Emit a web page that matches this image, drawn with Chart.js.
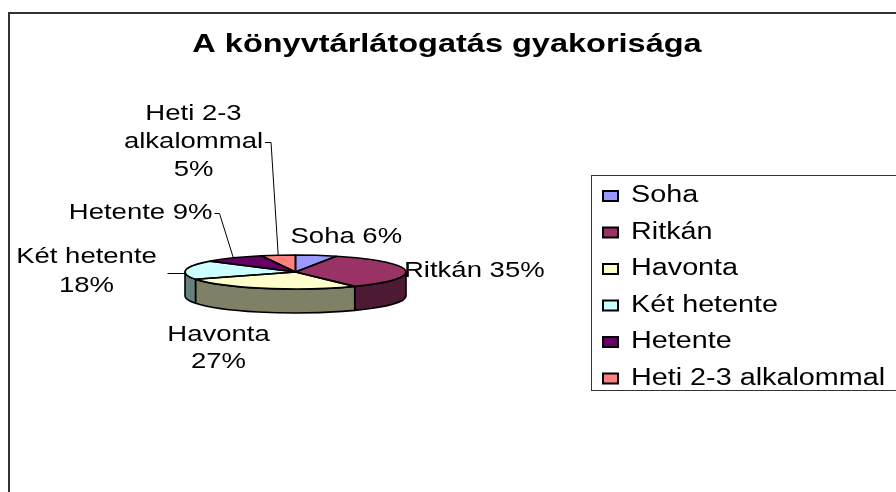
<!DOCTYPE html>
<html>
<head>
<meta charset="utf-8">
<script src="https://cdn.jsdelivr.net/npm/chart.js@4.4.1/dist/chart.umd.min.js"></script>
<style>
  html, body { margin: 0; padding: 0; background: #fff; }
  canvas { display: block; }
</style>
</head>
<body>
<canvas id="c" width="896" height="492"></canvas>
<script>
const TITLE = "A könyvtárlátogatás gyakorisága";
const CATEGORIES = ["Soha", "Ritkán", "Havonta", "Két hetente", "Hetente", "Heti 2-3 alkalommal"];
const VALUES = [6, 35, 27, 18, 9, 5];
const FACE_COLORS = ["#9999FF", "#993366", "#FFFFCC", "#CCFFFF", "#660066", "#FF8080"];
const SIDE_COLORS = ["#4D4D80", "#4D1A33", "#808066", "#668080", "#330033", "#804040"];
// label lines per slice ({v} replaced by the value)
const LABEL_LINES = [["Soha {v}%"], ["Ritkán {v}%"], ["Havonta", "{v}%"], ["Két hetente", "{v}%"], ["Hetente {v}%"], ["Heti 2-3", "alkalommal", "{v}%"]];

const SX = 1.25;               // horizontal text stretch of the original picture
const FONT = "Liberation Sans, Arial, sans-serif";
const LABEL_FONT = "22px " + FONT;
const LEGEND_FONT = "23px " + FONT;
const SQUASH = 0.154;          // vertical/horizontal ratio of the tilted pie
const DEPTH = 24;

function stretchedText(ctx, text, x, y, align, font) {
  ctx.save();
  ctx.font = font;
  ctx.fillStyle = "#000";
  ctx.textBaseline = "middle";
  ctx.textAlign = align;
  ctx.translate(x, y);
  ctx.scale(SX, 1);
  ctx.fillText(text, 0, 0);
  ctx.restore();
}
function textWidth(ctx, text, font) {
  ctx.save();
  ctx.font = font;
  const w = ctx.measureText(text).width * SX;
  ctx.restore();
  return w;
}

function geom(chart) {
  const arcs = chart.getDatasetMeta(0).data;
  const a0 = arcs[0];
  return { arcs, cx: a0.x, cy: a0.y, r: a0.outerRadius, rs: a0.outerRadius * SQUASH };
}

const pie3d = {
  id: "pie3d",
  beforeDraw(chart) {
    const ctx = chart.ctx;
    ctx.save();
    ctx.fillStyle = "#fff";
    ctx.fillRect(0, 0, chart.width, chart.height);
    ctx.restore();
  },
  beforeDatasetsDraw(chart) {
    const ctx = chart.ctx;
    const { arcs, cx, cy, r, rs } = geom(chart);
    ctx.save();
    ctx.lineWidth = 1.6;
    ctx.strokeStyle = "#000";
    ctx.lineJoin = "round";
    arcs.forEach((arc, i) => {
      const a = Math.max(arc.startAngle, 0);
      const b = Math.min(arc.endAngle, Math.PI);
      if (a >= b) return;
      ctx.beginPath();
      ctx.ellipse(cx, cy, r, rs, 0, a, b);
      ctx.ellipse(cx, cy + DEPTH, r, rs, 0, b, a, true);
      ctx.closePath();
      ctx.fillStyle = SIDE_COLORS[i];
      ctx.fill();
      ctx.stroke();
    });
    ctx.restore();
    ctx.save();
    ctx.translate(cx, cy);
    ctx.scale(1, SQUASH);
    ctx.translate(-cx, -cy);
  },
  afterDatasetsDraw(chart) {
    const ctx = chart.ctx;
    ctx.restore();
    const { arcs, cx, cy, r, rs } = geom(chart);
    ctx.save();
    ctx.lineWidth = 1.6;
    ctx.strokeStyle = "#000";
    ctx.lineJoin = "round";
    arcs.forEach((arc) => {
      ctx.beginPath();
      ctx.moveTo(cx, cy);
      ctx.ellipse(cx, cy, r, rs, 0, arc.startAngle, arc.endAngle);
      ctx.closePath();
      ctx.stroke();
    });
    ctx.restore();
  },
  afterDraw(chart) {
    const ctx = chart.ctx;
    const { arcs, cx, cy, r, rs } = geom(chart);
    // chart frame
    ctx.save();
    ctx.strokeStyle = "#333";
    ctx.lineWidth = 2;
    ctx.strokeRect(9, 13, 2000, 2000);
    ctx.restore();
    // title
    stretchedText(ctx, TITLE, 447, 45, "center", "bold 26px " + FONT);

    // data labels
    const lines = LABEL_LINES.map((ls, i) => ls.map(s => s.replace("{v}", VALUES[i])));
    const mid = arcs.map(a => {
      const m = (a.startAngle + a.endAngle) / 2;
      return { x: cx + r * Math.cos(m), y: cy + rs * Math.sin(m) };
    });
    // layout relative to the pie centre
    const L = [
      { x: cx - 5, y: cy - 35, align: "left", gap: 27 },
      { x: cx + r - 2, y: cy - 1, align: "left", gap: 27 },
      { x: cx - 77, y: cy + 63, align: "center", gap: 27 },
      { x: cx - 209, y: cy - 15, align: "center", gap: 29 },
      { x: cx - 83, y: cy - 59, align: "right", gap: 27 },
      { x: cx - 102, y: cy - 158, align: "center", gap: 28 }
    ];
    L.forEach((p, i) => {
      lines[i].forEach((t, k) => stretchedText(ctx, t, p.x, p.y + k * p.gap, p.align, LABEL_FONT));
    });
    // leader lines
    ctx.save();
    ctx.strokeStyle = "#000";
    ctx.lineWidth = 1;
    ctx.beginPath();
    // Két hetente
    ctx.moveTo(cx - 128, cy + 1.5);
    ctx.lineTo(mid[3].x, cy + 1.5);
    // Hetente
    const hx = L[4].x + 2;
    ctx.moveTo(hx, L[4].y + 0.5);
    ctx.lineTo(hx + 5, L[4].y + 0.5);
    ctx.lineTo(mid[4].x, mid[4].y);
    // Heti 2-3
    const ax = L[5].x + textWidth(ctx, lines[5][1], LABEL_FONT) / 2 + 2;
    const ay = L[5].y + L[5].gap + 0.5;
    ctx.moveTo(ax, ay);
    ctx.lineTo(ax + 6, ay);
    ctx.lineTo(mid[5].x, mid[5].y);
    ctx.stroke();
    ctx.restore();

    // legend
    ctx.save();
    ctx.strokeStyle = "#333";
    ctx.lineWidth = 1;
    ctx.strokeRect(591.5, 175.5, 400, 215);
    ctx.restore();
    CATEGORIES.forEach((c, i) => {
      const y = 196 + i * 36.5;
      ctx.save();
      ctx.fillStyle = FACE_COLORS[i];
      ctx.fillRect(603, y - 5, 15, 10);
      ctx.strokeStyle = "#000";
      ctx.lineWidth = 2;
      ctx.strokeRect(603, y - 5, 15, 10);
      ctx.restore();
      stretchedText(ctx, c, 631, y, "left", LEGEND_FONT);
    });
  }
};

new Chart(document.getElementById("c"), {
  type: "pie",
  data: {
    labels: CATEGORIES,
    datasets: [{ data: VALUES, backgroundColor: FACE_COLORS, borderWidth: 0 }]
  },
  options: {
    responsive: false,
    animation: false,
    layout: { padding: { left: 185, right: 490, top: 161, bottom: 109 } },
    plugins: { legend: { display: false }, title: { display: false }, tooltip: { enabled: false } }
  },
  plugins: [pie3d]
});
</script>
</body>
</html>
